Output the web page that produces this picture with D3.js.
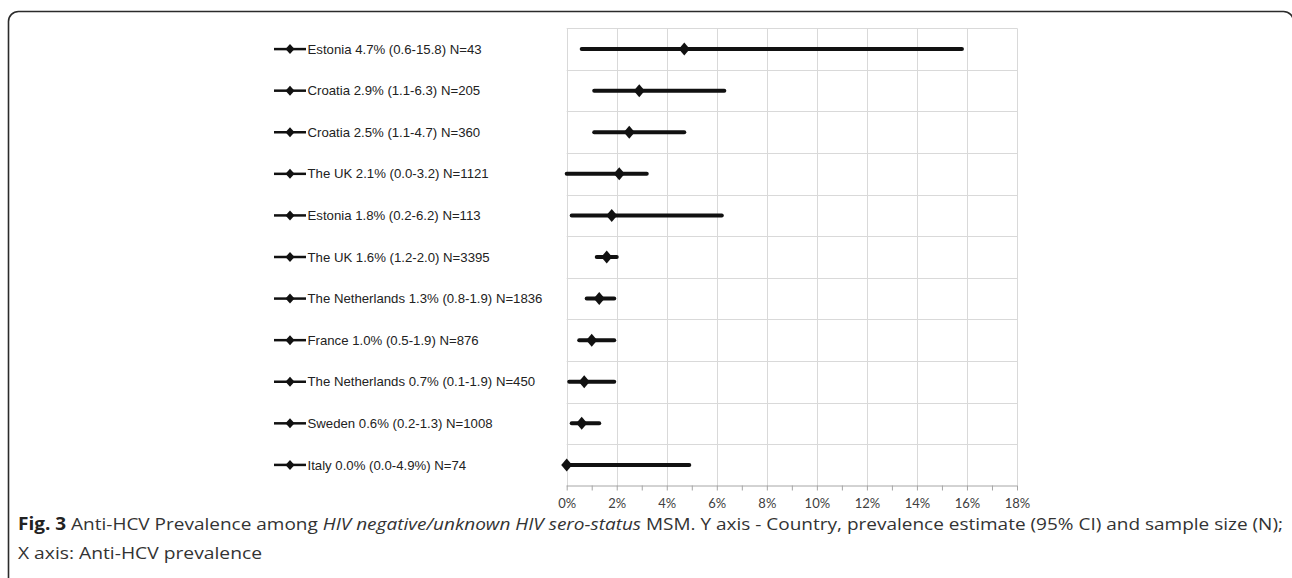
<!DOCTYPE html>
<html><head><meta charset="utf-8">
<script src="https://cdn.jsdelivr.net/npm/d3@7"></script>
<style>html,body{margin:0;padding:0;background:#fff;}svg{display:block;}</style>
</head><body>
<svg id="c" width="1292" height="578"></svg>
<script>
const labels = [
  "Estonia 4.7% (0.6-15.8) N=43",
  "Croatia 2.9% (1.1-6.3) N=205",
  "Croatia 2.5% (1.1-4.7) N=360",
  "The UK 2.1% (0.0-3.2) N=1121",
  "Estonia 1.8% (0.2-6.2) N=113",
  "The UK 1.6% (1.2-2.0) N=3395",
  "The Netherlands 1.3% (0.8-1.9) N=1836",
  "France 1.0% (0.5-1.9) N=876",
  "The Netherlands 0.7% (0.1-1.9) N=450",
  "Sweden 0.6% (0.2-1.3) N=1008",
  "Italy 0.0% (0.0-4.9%) N=74"
];
const estimate = [4.7, 2.9, 2.5, 2.1, 1.8, 1.6, 1.3, 1.0, 0.7, 0.6, 0.0];
const lower    = [0.6, 1.1, 1.1, 0.0, 0.2, 1.2, 0.8, 0.5, 0.1, 0.2, 0.0];
const upper    = [15.8, 6.3, 4.7, 3.2, 6.2, 2.0, 1.9, 1.9, 1.9, 1.3, 4.9];
const xTicks = [0, 2, 4, 6, 8, 10, 12, 14, 16, 18];
const minorTicks = d3.range(0, 19, 1);
const captionBold = "Fig. 3";
const captionLine1a = " Anti-HCV Prevalence among ";
const captionItalic = "HIV negative/unknown HIV sero-status";
const captionLine1b = " MSM. Y axis - Country, prevalence estimate (95% CI) and sample size (N);";
const captionLine2 = "X axis: Anti-HCV prevalence";

const svg = d3.select("#c");
// frame
svg.append("rect").attr("x", 8.5).attr("y", 11.5).attr("width", 1285).attr("height", 620)
  .attr("rx", 10).attr("fill", "none").attr("stroke", "#2b2b2b").attr("stroke-width", 1.6);

const x = d3.scaleLinear().domain([0, 18]).range([566.7, 1017]);
const y = d3.scaleBand().domain(d3.range(labels.length)).range([28.3, 485.7]).paddingInner(0).paddingOuter(0);

const g = svg.append("g");
// horizontal gridlines
const hLines = d3.range(labels.length).map(i => y(i));
g.selectAll("line.h").data(hLines).join("line")
  .attr("x1", x(0)).attr("x2", x(18)).attr("y1", d => Math.round(d) + 0.5).attr("y2", d => Math.round(d) + 0.5)
  .attr("stroke", "#d9d9d9").attr("stroke-width", 1);
// vertical gridlines
g.selectAll("line.v").data(xTicks).join("line")
  .attr("x1", d => Math.round(x(d)) + 0.5).attr("x2", d => Math.round(x(d)) + 0.5)
  .attr("y1", 28.3).attr("y2", 485.7)
  .attr("stroke", "#d9d9d9").attr("stroke-width", 1);

// x axis
const axis = d3.axisBottom(x).tickValues(minorTicks).tickSize(5).tickFormat(() => "");
const ax = svg.append("g").attr("transform", "translate(0,485.5)").call(axis);
ax.select(".domain").attr("stroke", "#a6a6a6").attr("d", `M${x(0)},0.5H${x(18)}`);
ax.selectAll(".tick line").attr("stroke", "#a6a6a6");
const axLab = d3.axisBottom(x).tickValues(xTicks).tickSize(0).tickPadding(13).tickFormat(d => d + "%");
const ax2 = svg.append("g").attr("transform", "translate(0,485.5)").call(axLab);
ax2.select(".domain").remove();
ax2.selectAll("text").attr("font-family", "Lato, 'Open Sans', sans-serif").attr("font-size", 13).attr("fill", "#404040");

// CI bars
const rows = labels.map((l, i) => ({l, e: estimate[i], lo: lower[i], hi: upper[i], i}));
const cy = d => y(d.i) + y.bandwidth() / 2;
g.selectAll("line.ci").data(rows).join("line")
  .attr("x1", d => x(d.lo)).attr("x2", d => x(d.hi)).attr("y1", cy).attr("y2", cy)
  .attr("stroke", "#111").attr("stroke-width", 4).attr("stroke-linecap", "round");
const diamond = (cx, cyy, w, h) => `M${cx},${cyy - h}L${cx + w},${cyy}L${cx},${cyy + h}L${cx - w},${cyy}Z`;
g.selectAll("path.pt").data(rows).join("path")
  .attr("d", d => diamond(x(d.e), cy(d), 5.5, 6.5)).attr("fill", "#111");

// legend-like labels
const lg = svg.append("g");
rows.forEach(d => {
  const yy = cy(d);
  lg.append("line").attr("x1", 274).attr("x2", 306).attr("y1", yy).attr("y2", yy)
    .attr("stroke", "#111").attr("stroke-width", 2.5);
  lg.append("path").attr("d", diamond(290, yy, 4.5, 5)).attr("fill", "#111");
  lg.append("text").attr("x", 307.5).attr("y", yy).attr("dy", "0.35em")
    .attr("font-family", "'Liberation Sans', Arial, sans-serif").attr("font-size", 13.2).attr("fill", "#222")
    .text(d.l);
});

// caption
const cap = svg.append("text").attr("x", 18).attr("y", 530)
  .attr("font-family", "'Open Sans', sans-serif").attr("font-size", 17).attr("fill", "#333")
  .attr("textLength", 1265).attr("lengthAdjust", "spacingAndGlyphs");
cap.append("tspan").attr("font-weight", "bold").attr("fill", "#222").text(captionBold);
cap.append("tspan").text(captionLine1a);
cap.append("tspan").attr("font-style", "italic").text(captionItalic);
cap.append("tspan").text(captionLine1b);
svg.append("text").attr("x", 18).attr("y", 559)
  .attr("font-family", "'Open Sans', sans-serif").attr("font-size", 17).attr("fill", "#333")
  .attr("textLength", 244).attr("lengthAdjust", "spacingAndGlyphs")
  .text(captionLine2);
</script>
</body></html>
